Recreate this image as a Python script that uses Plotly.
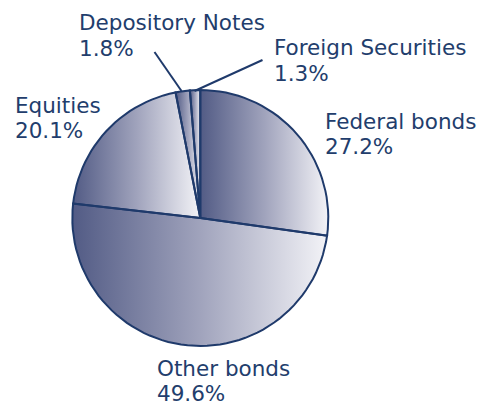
import numpy as np
import plotly.graph_objects as go

# Portfolio composition, clockwise from 12 o'clock
categories = ["Federal bonds", "Other bonds", "Equities", "Depository Notes", "Foreign Securities"]
shares = [27.2, 49.6, 20.1, 1.8, 1.3]

# Label placement (left x, vertical centre of name line, of percent line) in pixel units
label_x = [323, 155, 13, 77, 272]
label_name_y = [121, 368.5, 105.5, 22, 47.2]
label_pct_y = [146.5, 393.5, 130.5, 48, 73.5]

NAVY = "#1f3a6b"
TEXT = "#223d6c"
GRADIENT = [[0.0, "#525b85"], [0.5, "#a0a3bc"], [1.0, "#f3f3f7"]]

W, H = 480, 403
cx, cy, r = 200.3, 218.0, 128.0


def wedge(a0, a1, n=120):
    """Polygon for a pie wedge between angles a0..a1 (degrees clockwise from top)."""
    t = np.radians(np.linspace(a0, a1, max(3, int(n * (a1 - a0) / 360) + 3)))
    xs = np.concatenate([[cx], cx + r * np.sin(t), [cx]])
    ys = np.concatenate([[cy], cy - r * np.cos(t), [cy]])
    return xs, ys


fig = go.Figure()

total = sum(shares)
bounds = np.concatenate([[0], np.cumsum(shares)]) / total * 360.0
wedges = [wedge(bounds[i], bounds[i + 1]) for i in range(len(shares))]

# gradient fills, each slice shaded left-to-right over its own extent
for name, (xs, ys) in zip(categories, wedges):
    fig.add_trace(go.Scatter(
        x=xs, y=ys, mode="lines", fill="toself",
        fillgradient=dict(type="horizontal", colorscale=GRADIENT),
        line=dict(width=0), hoverinfo="skip", name=name, showlegend=False,
    ))

# slice outlines on top
for xs, ys in wedges:
    fig.add_trace(go.Scatter(
        x=xs, y=ys, mode="lines", line=dict(color=NAVY, width=2),
        hoverinfo="skip", showlegend=False,
    ))

# labels
for name, v, lx, ny, py in zip(categories, shares, label_x, label_name_y, label_pct_y):
    for txt, yy in ((name, ny), (f"{v:.1f}%", py)):
        fig.add_annotation(
            x=lx, y=yy, text=txt, showarrow=False, xanchor="left", yanchor="middle",
            font=dict(family="DejaVu Sans", size=21.5, color=TEXT),
        )

# leader lines for the two thin slices
leaders = {"Depository Notes": (154.5, 52, 181.5, 91), "Foreign Securities": (262.5, 60, 194.5, 91)}
for x0, y0, x1, y1 in leaders.values():
    fig.add_shape(type="line", x0=x0, y0=y0, x1=x1, y1=y1, line=dict(color=NAVY, width=2))

fig.update_xaxes(range=[0, W], visible=False, fixedrange=True)
fig.update_yaxes(range=[H, 0], visible=False, fixedrange=True)
fig.update_layout(
    width=W, height=H, margin=dict(l=0, r=0, t=0, b=0),
    paper_bgcolor="white", plot_bgcolor="white", showlegend=False,
)

fig.write_html("out.html")
